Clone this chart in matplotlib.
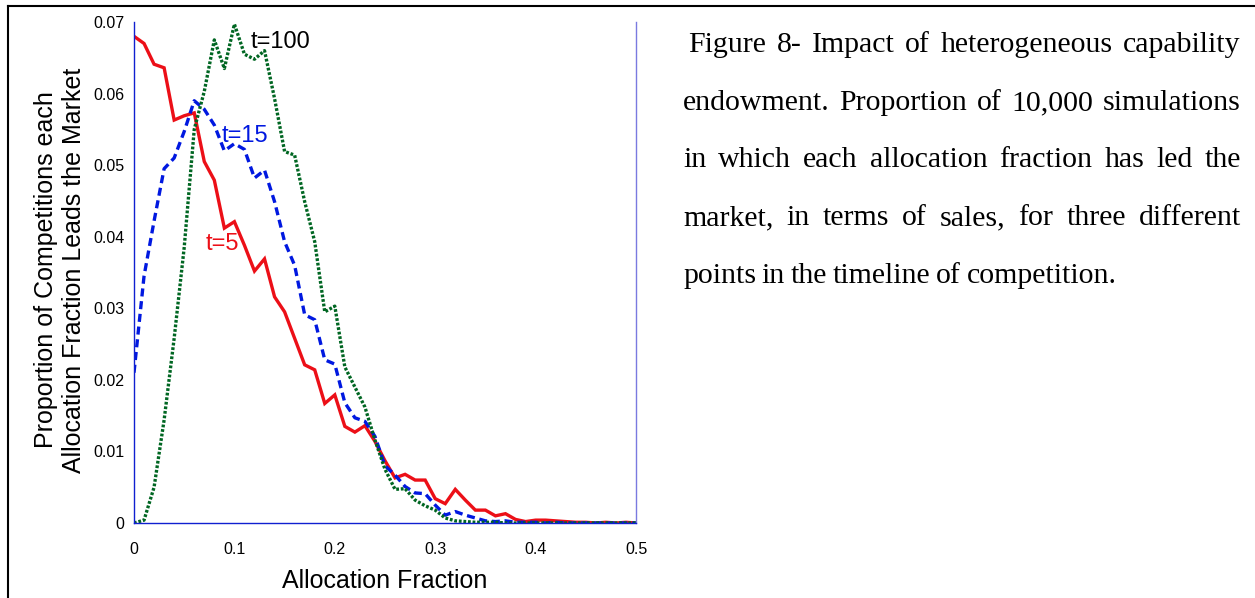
import numpy as np
import matplotlib
matplotlib.use("Agg")
import matplotlib.pyplot as plt
from matplotlib.lines import Line2D

plt.rcParams['font.family'] = ['Liberation Sans', 'DejaVu Sans']
plt.rcParams['lines.scale_dashes'] = False

# allocation fraction grid (0 .. 0.5 in steps of 0.01)
fraction = np.linspace(0, 0.5, 51)

t5 = [0.0680, 0.0670, 0.0641, 0.0636, 0.0563, 0.0569, 0.0573, 0.0505, 0.0479, 0.0412,
      0.0421, 0.0388, 0.0352, 0.0369, 0.0316, 0.0295, 0.0258, 0.0221, 0.0214, 0.0167,
      0.0179, 0.0135, 0.0127, 0.0136, 0.0114, 0.0087, 0.0063, 0.0068, 0.0060, 0.0060,
      0.0034, 0.0027, 0.0047, 0.0032, 0.0018, 0.0018, 0.0010, 0.0013, 0.0005, 0.0002,
      0.0004, 0.0004, 0.0003, 0.0002, 0.0001, 0.0001, 0.0000, 0.0001, 0.0000, 0.0001,
      0.0000]

t15 = [0.0210, 0.0345, 0.0422, 0.0495, 0.0510, 0.0547, 0.0590, 0.0578, 0.0556, 0.0520,
       0.0530, 0.0522, 0.0482, 0.0493, 0.0449, 0.0393, 0.0360, 0.0291, 0.0284, 0.0228,
       0.0222, 0.0168, 0.0147, 0.0142, 0.0121, 0.0080, 0.0067, 0.0051, 0.0042, 0.0041,
       0.0025, 0.0011, 0.0016, 0.0011, 0.0007, 0.0003, 0.0002, 0.0003, 0.0001, 0.0001,
       0.0001, 0.0000, 0.0001, 0.0000, 0.0000, 0.0000, 0.0000, 0.0000, 0.0000, 0.0000,
       0.0000]

t100 = [0.0000, 0.0004, 0.0050, 0.0144, 0.0258, 0.0385, 0.0550, 0.0603, 0.0675, 0.0635,
        0.0697, 0.0655, 0.0648, 0.0660, 0.0593, 0.0519, 0.0514, 0.0449, 0.0393, 0.0295,
        0.0303, 0.0218, 0.0190, 0.0162, 0.0116, 0.0075, 0.0047, 0.0048, 0.0032, 0.0024,
        0.0018, 0.0007, 0.0003, 0.0002, 0.0001, 0.0001, 0.0001, 0.0000, 0.0000, 0.0000,
        0.0000, 0.0000, 0.0000, 0.0000, 0.0000, 0.0000, 0.0000, 0.0000, 0.0000, 0.0000,
        0.0000]

xticks = [0, 0.1, 0.2, 0.3, 0.4, 0.5]
xtick_labels = ['0', '0.1', '0.2', '0.3', '0.4', '0.5']
yticks = [0, 0.01, 0.02, 0.03, 0.04, 0.05, 0.06, 0.07]
ytick_labels = ['0', '0.01', '0.02', '0.03', '0.04', '0.05', '0.06', '0.07']

caption = [
    " Figure 8- Impact of heterogeneous capability",
    "endowment. Proportion of 10,000 simulations",
    "in which each allocation fraction has led the",
    "market, in terms of sales, for three different",
    "points in the timeline of competition.",
]

W, H = 1255, 598
fig = plt.figure(figsize=(W / 100, H / 100), dpi=100)
ax = fig.add_axes([134 / W, 1 - 523 / H, 502 / W, 501 / H])

ax.plot(fraction, t5, color='#ec0f17', lw=2.4, solid_joinstyle='miter')
ax.plot(fraction, t15, color='#0018e0', lw=2.4, dashes=(5.8, 3.4))
ax.plot(fraction, t100, color='#006622', lw=2.4, dashes=(2.0, 1.3))

ax.set_xlim(0, 0.5)
ax.set_ylim(0, 0.07)
ax.set_xticks(xticks)
ax.set_xticklabels(xtick_labels)
ax.set_yticks(yticks)
ax.set_yticklabels(ytick_labels)
ax.tick_params(length=0, labelsize=11.5)
ax.tick_params(axis='x', pad=14)
ax.tick_params(axis='y', pad=7)

for side in ['left', 'bottom']:
    ax.spines[side].set_color('#1020d0')
    ax.spines[side].set_linewidth(1.0)
ax.spines['right'].set_color('#7a7ae0')
ax.spines['right'].set_linewidth(1.0)
ax.spines['top'].set_visible(False)

ax.set_xlabel('Allocation Fraction', fontsize=18, labelpad=8)
ax.text(-0.147, 0.505, 'Proportion of Competitions each\nAllocation Fraction Leads the Market',
        transform=ax.transAxes, rotation=90, ha='center', va='center',
        fontsize=18, linespacing=1.2)

# curve labels
ax.text(0.1165, 0.0672, 't=100', color='black', fontsize=17, va='center')
ax.text(0.0876, 0.0541, 't=15', color='#0018e0', fontsize=17, va='center')
ax.text(0.0717, 0.0390, 't=5', color='#ec0f17', fontsize=17, va='center')

# frame lines of the page
fig.add_artist(Line2D([8 / W, 1], [1 - 6 / H, 1 - 6 / H], color='black', lw=1.5))
fig.add_artist(Line2D([8 / W, 8 / W], [0, 1 - 6 / H], color='black', lw=1.5))

# justified caption text
renderer = fig.canvas.get_renderer()
left, right = 683, 1241
line_y = [45, 103, 160, 218, 276]
cap_font = dict(family='Liberation Serif', fontsize=21.5, va='center', ha='left')
for i, line in enumerate(caption):
    x0 = left
    if line.startswith(' '):
        x0 = left + 5
    words = line.split()
    texts = [fig.text(0, 1 - line_y[i] / H, w, **cap_font) for w in words]
    widths = [t.get_window_extent(renderer).width for t in texts]
    if i < len(caption) - 1:
        gap = (right - x0 - sum(widths)) / (len(words) - 1)
    else:
        gap = texts[0].get_window_extent(renderer).height * 0.22
    x = x0
    for t, w in zip(texts, widths):
        t.set_x(x / W)
        x += w + gap

fig.savefig('out.png', dpi=100)
